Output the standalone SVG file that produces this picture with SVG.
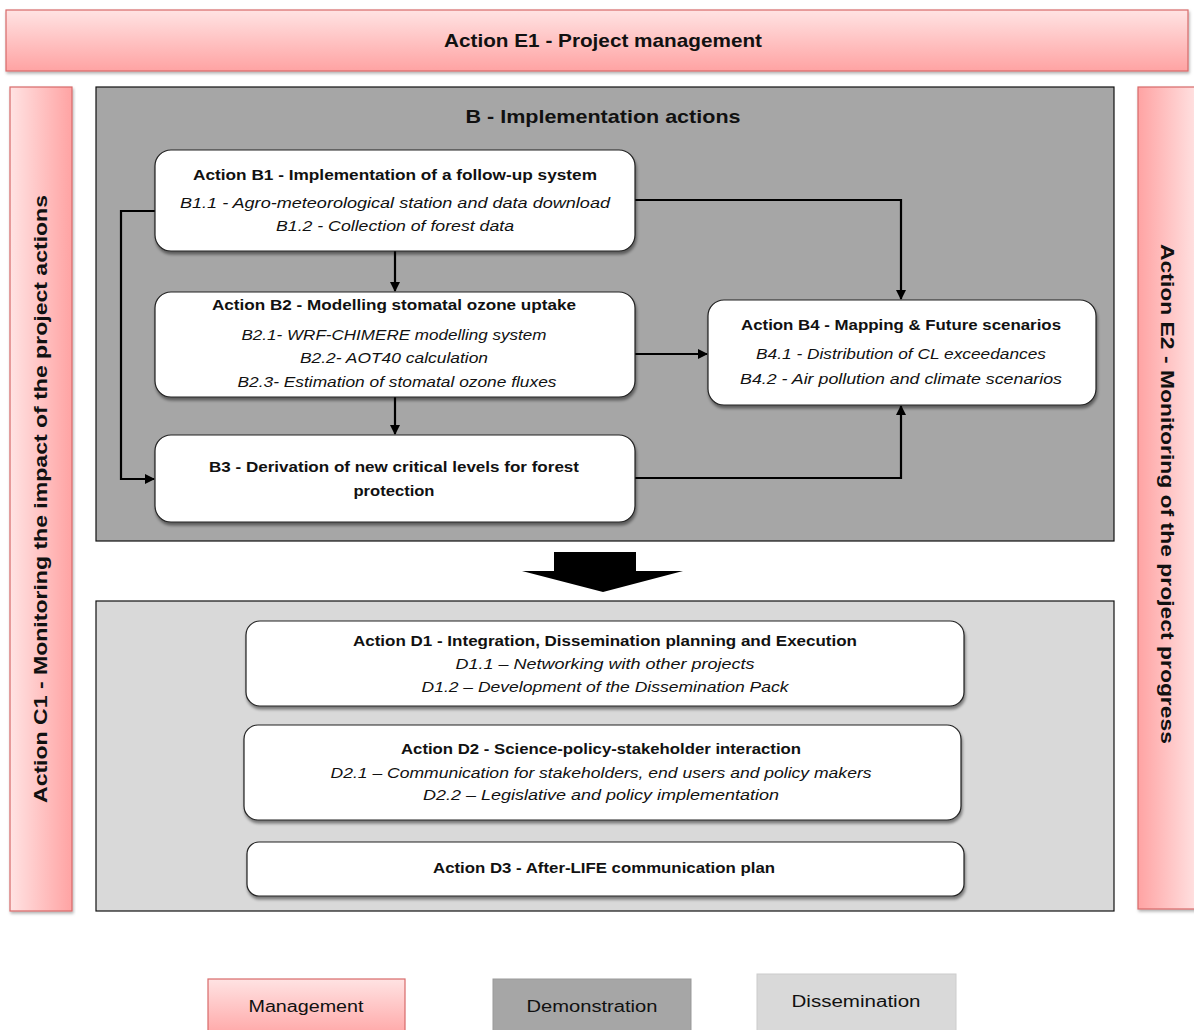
<svg xmlns="http://www.w3.org/2000/svg" width="1194" height="1030" viewBox="0 0 1194 1030">
<defs>
<linearGradient id="gV" x1="0" y1="0" x2="0" y2="1"><stop offset="0" stop-color="#ffe3e3"/><stop offset="1" stop-color="#ffa3a3"/></linearGradient>
<linearGradient id="gL" x1="0" y1="0" x2="1" y2="0"><stop offset="0" stop-color="#ffe3e3"/><stop offset="1" stop-color="#ffa3a3"/></linearGradient>
<linearGradient id="gR" x1="1" y1="0" x2="0" y2="0"><stop offset="0" stop-color="#ffe3e3"/><stop offset="1" stop-color="#ffa3a3"/></linearGradient>
<filter id="sh" x="-5%" y="-10%" width="110%" height="130%"><feDropShadow dx="1" dy="3" stdDeviation="1.5" flood-color="#000" flood-opacity="0.45"/></filter>
<filter id="sh2" x="-5%" y="-10%" width="110%" height="130%"><feDropShadow dx="1" dy="2" stdDeviation="1.5" flood-color="#000" flood-opacity="0.3"/></filter>
<marker id="ah" markerWidth="10" markerHeight="10" refX="9" refY="5" orient="auto" markerUnits="userSpaceOnUse"><path d="M0,0 L10,5 L0,10 Z" fill="#000"/></marker>
<style>
text{font-family:"Liberation Sans",Arial,sans-serif;fill:#111;text-anchor:middle}
.t{font-weight:bold;font-size:15px}
.s{font-style:italic;font-size:14px}
.big{font-weight:bold;font-size:19px}
.lg{font-size:16px}
.node{fill:#fff;stroke:#222;stroke-width:1.2;filter:url(#sh)}
.pink{stroke:#d86a6a;stroke-width:1.2;filter:url(#sh2)}
.con{fill:none;stroke:#000;stroke-width:2.2;marker-end:url(#ah)}
</style>
</defs>

<g id="E1">
<rect class="pink" x="6" y="10" width="1182" height="61" fill="url(#gV)"/>
<text class="big" x="603" y="47" textLength="318" lengthAdjust="spacingAndGlyphs">Action E1 - Project management</text>
</g>

<g id="C1">
<rect class="pink" x="10" y="87" width="62" height="824" fill="url(#gL)"/>
<text class="big" transform="translate(47,499) rotate(-90)" x="0" y="0" textLength="608" lengthAdjust="spacingAndGlyphs">Action C1 - Monitoring the impact of the project actions</text>
</g>

<g id="E2">
<rect class="pink" x="1138" y="87" width="60" height="822" fill="url(#gR)"/>
<text class="big" transform="translate(1161,494) rotate(90)" x="0" y="0" textLength="500" lengthAdjust="spacingAndGlyphs">Action E2 - Monitoring of the project progress</text>
</g>

<g id="B">
<rect x="96" y="87" width="1018" height="454" fill="#a6a6a6" stroke="#111" stroke-width="1.2"/>
<text class="big" x="603" y="123" textLength="275" lengthAdjust="spacingAndGlyphs">B -  Implementation actions</text>
</g>

<g id="D">
<rect x="96" y="601" width="1018" height="310" fill="#d9d9d9" stroke="#111" stroke-width="1.2"/>
</g>

<g id="connectors">
<path class="con" d="M635,200 H901 V299"/>
<path class="con" d="M395,251 V291"/>
<path class="con" d="M635,354 H707"/>
<path class="con" d="M395,397 V434"/>
<path class="con" d="M155,211 H121 V479 H154"/>
<path class="con" d="M635,478 H901 V406"/>
<path d="M554,552 H636 V571 H683 L603,592 L522,571 H554 Z" fill="#000"/>
</g>

<g id="B1">
<rect class="node" x="155" y="150" width="480" height="101" rx="16"/>
<text class="t" x="395" y="180" textLength="404" lengthAdjust="spacingAndGlyphs">Action B1 - Implementation of a follow-up system</text>
<text class="s" x="395" y="208" textLength="430" lengthAdjust="spacingAndGlyphs">B1.1 - Agro-meteorological station and data download</text>
<text class="s" x="395" y="231" textLength="238" lengthAdjust="spacingAndGlyphs">B1.2 - Collection of forest data</text>
</g>

<g id="B2">
<rect class="node" x="155" y="292" width="480" height="105" rx="16"/>
<text class="t" x="394" y="310" textLength="364" lengthAdjust="spacingAndGlyphs">Action B2 - Modelling stomatal ozone uptake</text>
<text class="s" x="394" y="340" textLength="305" lengthAdjust="spacingAndGlyphs">B2.1- WRF-CHIMERE modelling system</text>
<text class="s" x="394" y="363" textLength="188" lengthAdjust="spacingAndGlyphs">B2.2- AOT40 calculation</text>
<text class="s" x="397" y="387" textLength="319" lengthAdjust="spacingAndGlyphs">B2.3- Estimation of stomatal ozone fluxes</text>
</g>

<g id="B3">
<rect class="node" x="155" y="435" width="480" height="87" rx="16"/>
<text class="t" x="394" y="472" textLength="370" lengthAdjust="spacingAndGlyphs">B3 - Derivation of new critical levels for forest</text>
<text class="t" x="394" y="496" textLength="81" lengthAdjust="spacingAndGlyphs">protection</text>
</g>

<g id="B4">
<rect class="node" x="708" y="300" width="388" height="105" rx="16"/>
<text class="t" x="901" y="330" textLength="320" lengthAdjust="spacingAndGlyphs">Action B4 - Mapping &amp; Future scenarios</text>
<text class="s" x="901" y="359" textLength="290" lengthAdjust="spacingAndGlyphs">B4.1 - Distribution of CL exceedances</text>
<text class="s" x="901" y="384" textLength="322" lengthAdjust="spacingAndGlyphs">B4.2 - Air pollution and climate scenarios</text>
</g>

<g id="D1">
<rect class="node" x="246" y="621" width="718" height="85" rx="14"/>
<text class="t" x="605" y="646" textLength="504" lengthAdjust="spacingAndGlyphs">Action D1 - Integration, Dissemination planning and Execution</text>
<text class="s" x="605" y="669" textLength="299" lengthAdjust="spacingAndGlyphs">D1.1 – Networking with other projects</text>
<text class="s" x="605" y="692" textLength="367" lengthAdjust="spacingAndGlyphs">D1.2 – Development of the Dissemination Pack</text>
</g>

<g id="D2">
<rect class="node" x="244" y="725" width="717" height="95" rx="14"/>
<text class="t" x="601" y="754" textLength="400" lengthAdjust="spacingAndGlyphs">Action D2 - Science-policy-stakeholder interaction</text>
<text class="s" x="601" y="778" textLength="541" lengthAdjust="spacingAndGlyphs">D2.1 – Communication for stakeholders, end users and policy makers</text>
<text class="s" x="601" y="800" textLength="356" lengthAdjust="spacingAndGlyphs">D2.2 – Legislative and policy implementation</text>
</g>

<g id="D3">
<rect class="node" x="247" y="842" width="717" height="54" rx="12"/>
<text class="t" x="604" y="873" textLength="342" lengthAdjust="spacingAndGlyphs">Action D3 - After-LIFE communication plan</text>
</g>

<g id="legend-management">
<rect x="208" y="979" width="197" height="60" fill="url(#gV)" stroke="#d86a6a" stroke-width="1.2"/>
<text class="lg" x="306" y="1012" textLength="115" lengthAdjust="spacingAndGlyphs">Management</text>
</g>
<g id="legend-demonstration">
<rect x="493" y="979" width="198" height="60" fill="#a6a6a6" stroke="#999" stroke-width="1"/>
<text class="lg" x="592" y="1012" textLength="131" lengthAdjust="spacingAndGlyphs">Demonstration</text>
</g>
<g id="legend-dissemination">
<rect x="757" y="974" width="199" height="65" fill="#d9d9d9" stroke="#ccc" stroke-width="1"/>
<text class="lg" x="856" y="1007" textLength="129" lengthAdjust="spacingAndGlyphs">Dissemination</text>
</g>
</svg>
